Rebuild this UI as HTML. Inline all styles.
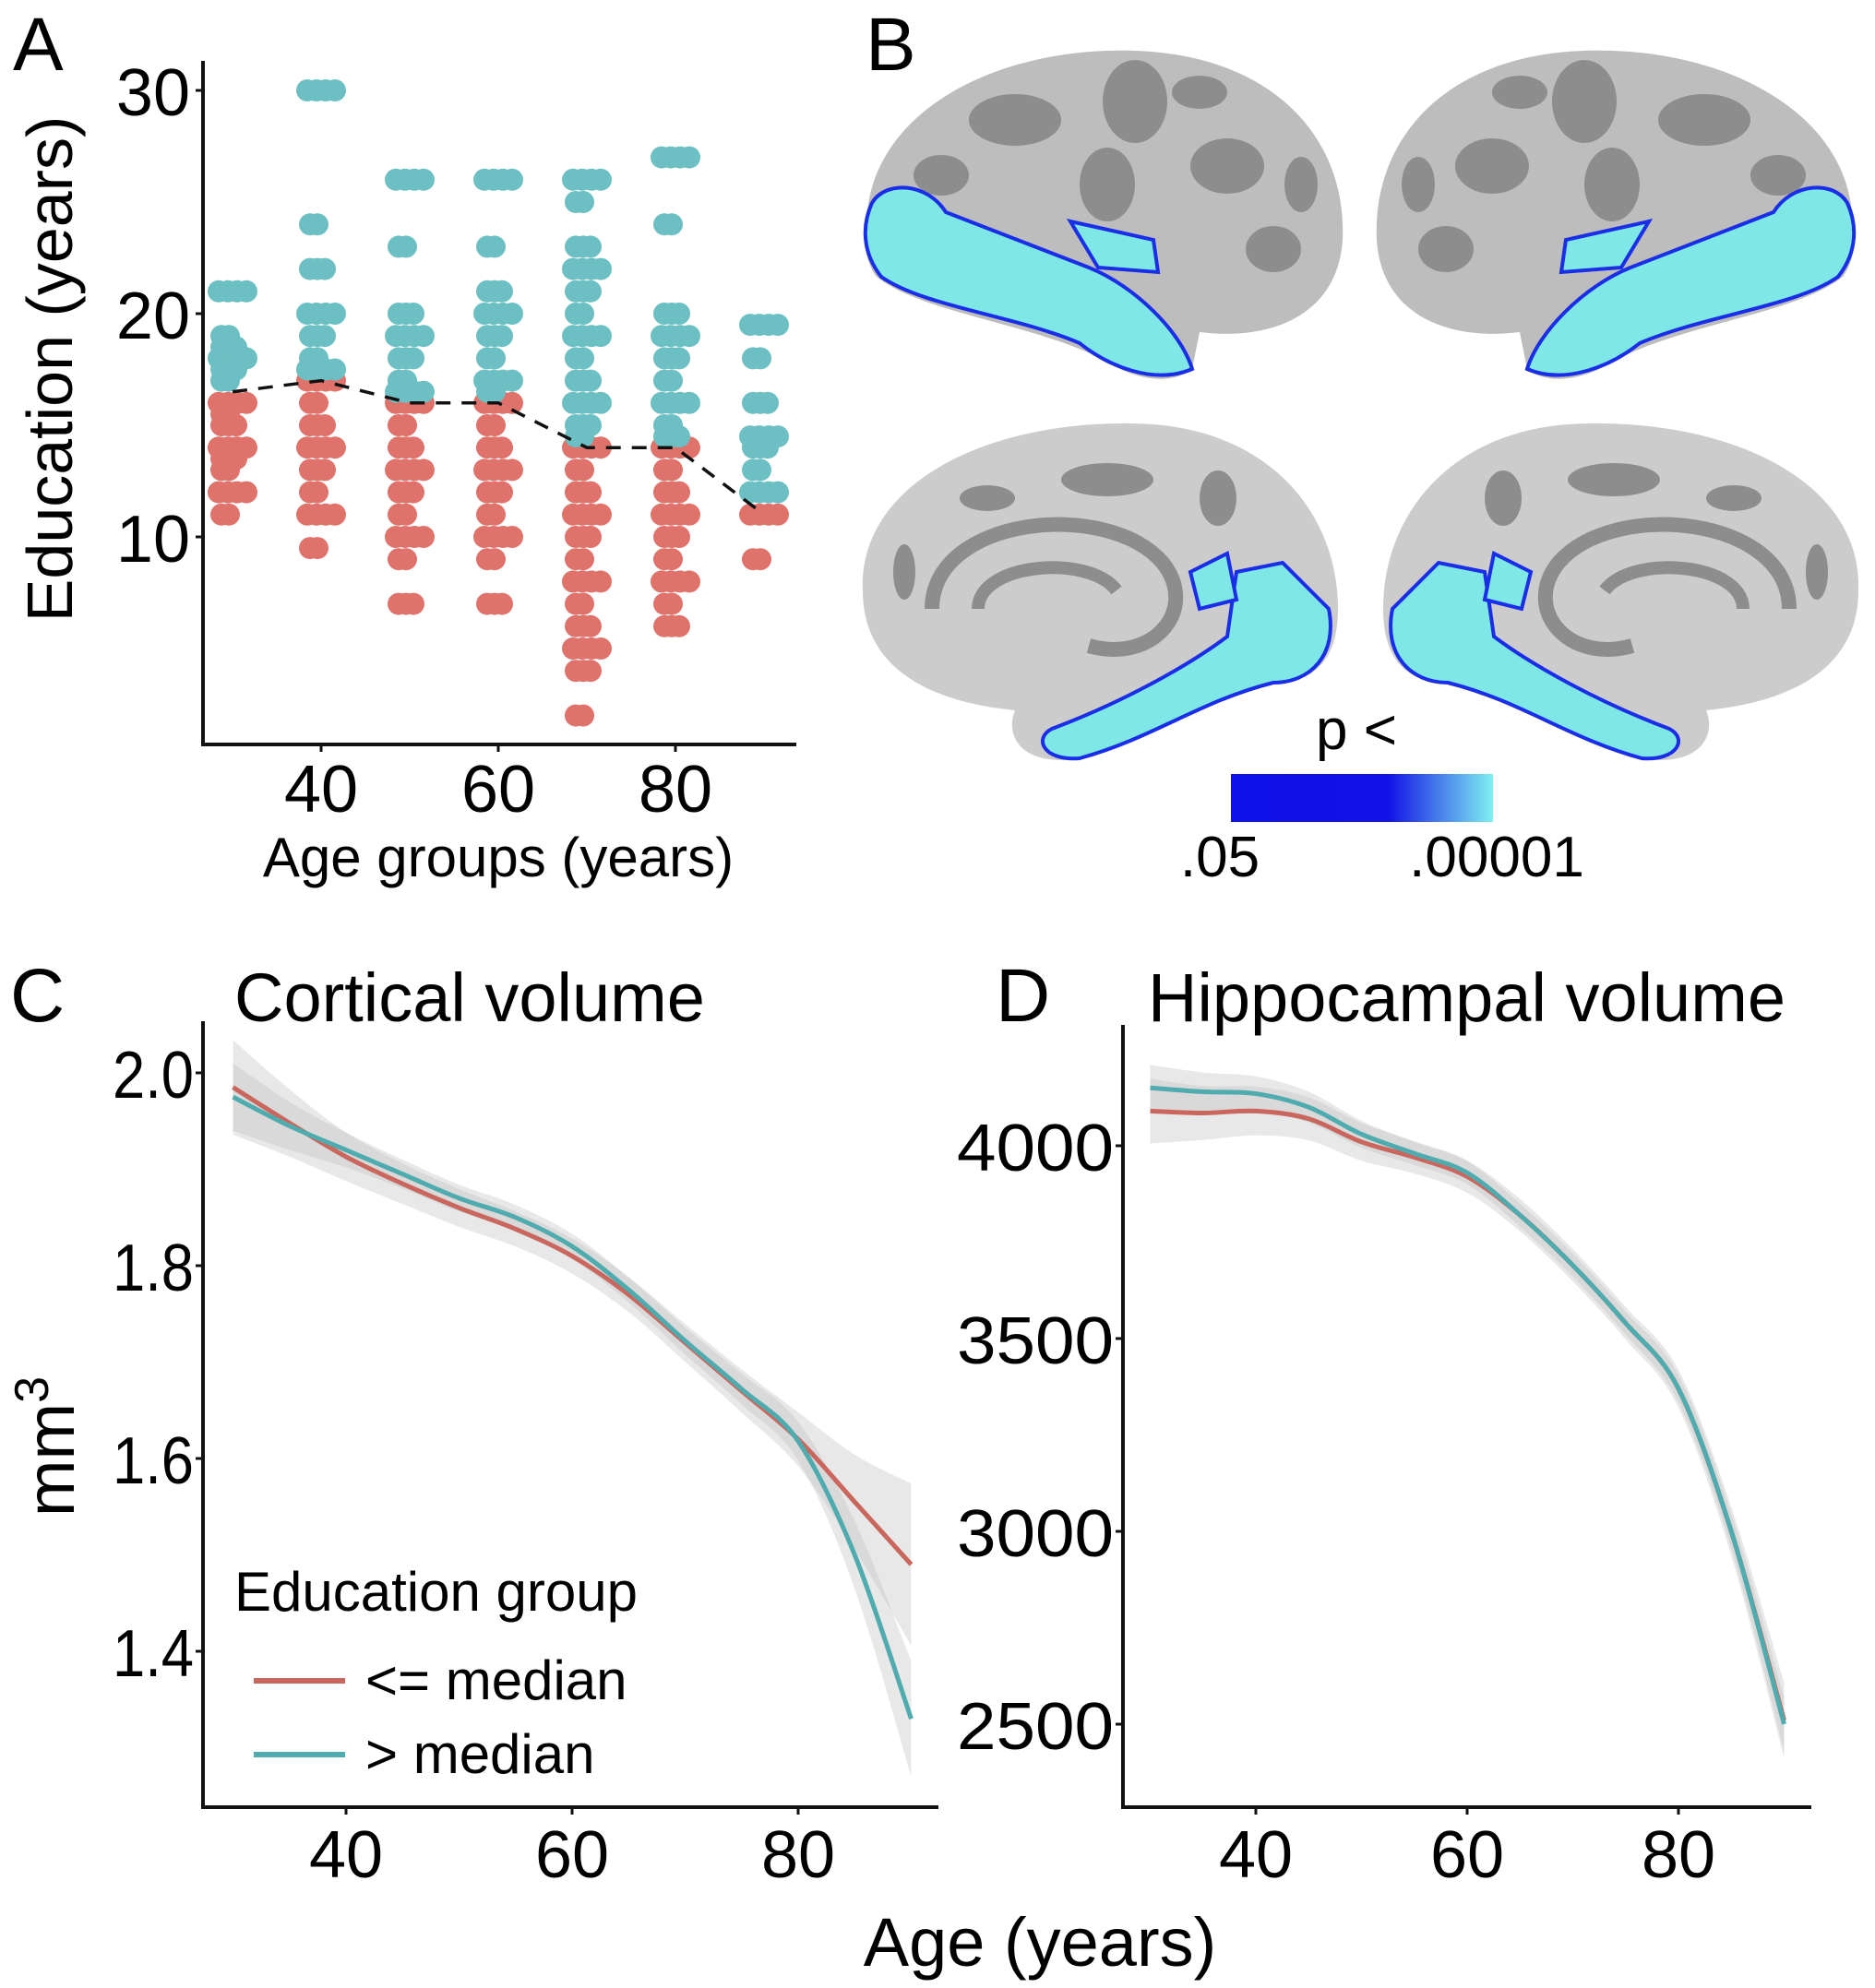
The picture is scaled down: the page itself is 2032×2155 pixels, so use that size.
<!DOCTYPE html>
<html><head><meta charset="utf-8"><style>
html,body{margin:0;padding:0;background:#fff;}
svg{display:block;font-family:"Liberation Sans",sans-serif;}
</style></head><body>
<svg id="fig" width="2032" height="2155" viewBox="0 0 2032 2155" xmlns="http://www.w3.org/2000/svg">
<g id="panelA"></g>
<g id="panelB">
  <text x="938" y="76" font-size="82">B</text>
  <defs>
    <linearGradient id="pgrad" x1="0" x2="1" y1="0" y2="0">
      <stop offset="0" stop-color="#1010e8"/><stop offset="0.6" stop-color="#1212e6"/><stop offset="1" stop-color="#7ff0f0"/>
    </linearGradient>
    <g id="lateral">
      <path d="M940 230 C950 120 1080 50 1230 55 C1380 60 1460 150 1455 260 C1450 340 1380 370 1300 360 L1292 400 C1270 418 1230 412 1200 392 C1120 350 1000 340 950 300 C935 280 935 250 940 230 Z" fill="#bdbdbd"/>
      <ellipse cx="1100" cy="130" rx="50" ry="28" fill="#8d8d8d"/><ellipse cx="1230" cy="110" rx="35" ry="45" fill="#8d8d8d"/>
      <ellipse cx="1330" cy="180" rx="40" ry="30" fill="#8d8d8d"/><ellipse cx="1380" cy="270" rx="30" ry="25" fill="#8d8d8d"/>
      <ellipse cx="1020" cy="190" rx="30" ry="22" fill="#8d8d8d"/><ellipse cx="1200" cy="200" rx="30" ry="40" fill="#8d8d8d"/>
      <ellipse cx="1300" cy="100" rx="30" ry="18" fill="#8d8d8d"/><ellipse cx="1410" cy="200" rx="18" ry="30" fill="#8d8d8d"/>
      <path d="M945 220 C960 195 1005 198 1025 230 L1180 290 C1230 310 1280 360 1292 400 C1250 418 1200 396 1170 372 C1100 342 1000 332 955 300 C933 272 935 242 945 220 Z" fill="#7fe8e6" stroke="#1a2ee6" stroke-width="4"/>
      <path d="M1160 240 L1250 260 L1255 295 L1190 290 Z" fill="#7fe8e6" stroke="#1a2ee6" stroke-width="4"/>
    </g>
    <g id="medial">
      <path d="M935 640 C930 520 1080 450 1250 460 C1380 470 1450 560 1450 660 C1450 720 1420 740 1380 740 C1300 760 1250 800 1170 822 C1110 832 1088 800 1100 770 C1000 760 935 720 935 640 Z" fill="#cccccc"/>
      <path d="M1010 660 C1010 560 1200 540 1260 610 C1300 660 1250 720 1180 700" fill="none" stroke="#8d8d8d" stroke-width="16"/>
      <path d="M1060 660 C1060 610 1180 600 1210 640" fill="none" stroke="#8d8d8d" stroke-width="14"/>
      <ellipse cx="1200" cy="520" rx="50" ry="18" fill="#8d8d8d"/><ellipse cx="1070" cy="540" rx="30" ry="14" fill="#8d8d8d"/>
      <ellipse cx="980" cy="620" rx="12" ry="30" fill="#8d8d8d"/><ellipse cx="1320" cy="540" rx="20" ry="30" fill="#8d8d8d"/>
      <path d="M1340 620 L1390 610 L1440 660 C1450 710 1420 740 1380 740 C1300 760 1250 800 1170 822 C1130 825 1120 800 1140 790 C1220 760 1290 720 1330 690 Z" fill="#7fe8e6" stroke="#1a2ee6" stroke-width="4"/>
      <path d="M1290 620 L1330 600 L1340 650 L1300 660 Z" fill="#7fe8e6" stroke="#1a2ee6" stroke-width="4"/>
    </g>
  </defs>
  <use href="#lateral"/>
  <use href="#lateral" transform="translate(2947,0) scale(-1,1)"/>
  <use href="#medial"/>
  <use href="#medial" transform="translate(2949,0) scale(-1,1)"/>
  <text x="1470" y="812" font-size="62" text-anchor="middle">p &lt;</text>
  <rect x="1334" y="839" width="284" height="52" fill="url(#pgrad)"/>
  <text x="1322" y="950" font-size="62" text-anchor="middle">.05</text>
  <text x="1622" y="950" font-size="62" text-anchor="middle">.00001</text>
</g>
<g id="panelC"></g>
<g id="panelD"></g>
</svg>
<script>
// ---------- Panel A data ----------
const ageGroups = [30, 40, 50, 60, 70, 80, 90];
const cyanEdu = [
  [21,19,18.5,18,17.5,17],
  [30,24,22,20,19,18,17.5],
  [26,23,20,19,18,17,16.5],
  [26,23,21,20,19,18,17,16.5],
  [26,25,23,22,21,20,19,18,17,16,15,14.5],
  [27,24,20,19,18,17,16,15,14.5],
  [19.5,18,16,14.5,14,13,12]
];
const redEdu = [
  [16,15.5,15,14,13.5,13,12,11],
  [17,16,15,14,13,12,11,9.5],
  [16,15,14,13,12,11,10,9,7],
  [16,15,14,13,12,11,10,9,7],
  [14,13,12,11,10,9,8,7,6,5,4,2],
  [14,13,12,11,10,9,8,7,6],
  [11,9]
];
const medianEdu = [16.5, 17, 16, 16, 14, 14, 11];
const aYTicks = [10, 20, 30];
const aXTicks = [40, 60, 80];
// ---------- Panel C data ----------
const ageSeq = [30,35,40,45,50,55,60,65,70,75,80,85,90];
const cortLow = [1.985,1.948,1.913,1.885,1.860,1.838,1.810,1.770,1.720,1.670,1.620,1.555,1.490];
const cortHigh = [1.975,1.945,1.920,1.895,1.870,1.850,1.820,1.775,1.722,1.672,1.618,1.500,1.330];
const cortSE = [0.035,0.025,0.018,0.015,0.014,0.013,0.013,0.013,0.014,0.016,0.02,0.035,0.06];
const cYTicks = [1.4, 1.6, 1.8, 2.0];
const cXTicks = [40, 60, 80];
// ---------- Panel D data ----------
const hipLow = [4090,4085,4090,4070,4010,3970,3920,3820,3690,3540,3370,3000,2510];
const hipHigh = [4150,4140,4135,4100,4030,3980,3930,3820,3690,3540,3370,3000,2500];
const hipSE = [60,50,45,40,35,30,30,30,30,30,35,45,70];
const dYTicks = [2500, 3000, 3500, 4000];
const dXTicks = [40, 60, 80];

const NS = "http://www.w3.org/2000/svg";
function mk(parent, tag, attrs, text){
  const e = document.createElementNS(NS, tag);
  for (const k in attrs) e.setAttribute(k, attrs[k]);
  if (text !== undefined) e.textContent = text;
  parent.appendChild(e);
  return e;
}
function smooth(pts){
  let d = "M" + pts[0][0] + " " + pts[0][1];
  for (let i=0;i<pts.length-1;i++){
    const p0=pts[Math.max(0,i-1)], p1=pts[i], p2=pts[i+1], p3=pts[Math.min(pts.length-1,i+2)];
    const c1=[p1[0]+(p2[0]-p0[0])/6, p1[1]+(p2[1]-p0[1])/6];
    const c2=[p2[0]-(p3[0]-p1[0])/6, p2[1]-(p3[1]-p1[1])/6];
    d += " C"+c1[0]+" "+c1[1]+" "+c2[0]+" "+c2[1]+" "+p2[0]+" "+p2[1];
  }
  return d;
}
const RED = "#df736b", CYAN = "#6cc0c3";

// ---------- Panel A ----------
(function(){
  const g = document.getElementById("panelA");
  const ax = a => 252 + (a-30)*9.6;
  const ay = v => 582 - (v-10)*24.2;
  const t = mk(g,"text",{x:14,y:76,"font-size":82});
  t.textContent="A";
  
  
  const dots = mk(g,"g",{});
  
  
  ageGroups.forEach((age,gi)=>{
    const offs = [-15,-5,5,15];
    [[redEdu[gi],RED],[cyanEdu[gi],CYAN]].forEach(([vals,col])=>{
      vals.forEach((v,vi)=>{
        const n = (vi%3===0)?4:(vi%2===0?3:2);
        for(let k=0;k<n;k++){
          const c = mk(dots,"circle",{cx:ax(age)+offs[k]*(n<4?0.8:1),cy:ay(v),r:12,fill:col});
          
          
        }
      });
    });
  });
  const med = mk(g,"polyline",{points:ageGroups.map((a,i)=>ax(a)+","+ay(medianEdu[i])).join(" "),fill:"none",stroke:"#111","stroke-width":3.5,"stroke-dasharray":"16 12"});
  
  
  const axis = mk(g,"path",{d:"M220 66 V807 H863",fill:"none",stroke:"#111","stroke-width":4});
  
  
  aYTicks.forEach(v=>{
    mk(g,"line",{x1:212,x2:220,y1:ay(v),y2:ay(v),stroke:"#111","stroke-width":3});
    const l = mk(g,"text",{x:206,y:ay(v)+27,"font-size":72,"text-anchor":"end"},String(v));
    
    
  });
  aXTicks.forEach(v=>{
    mk(g,"line",{x1:ax(v),x2:ax(v),y1:807,y2:815,stroke:"#111","stroke-width":3});
    const l = mk(g,"text",{x:ax(v),y:880,"font-size":72,"text-anchor":"middle"},String(v));
    
    
  });
  const yt = mk(g,"text",{x:0,y:0,"font-size":70,"text-anchor":"middle",transform:"translate(78,400) rotate(-90)"},"Education (years)");
  
  
  const xt = mk(g,"text",{x:540,y:950,"font-size":60,"text-anchor":"middle"},"Age groups (years)");
  
  
})();

function linePanel(gid, opts){
  const g = document.getElementById(gid);
  const sx = a => opts.x40 + (a-40)*opts.xs;
  const sy = v => opts.yref + (v-opts.vref)*opts.ys;
  const lab = mk(g,"text",{x:opts.labX,y:1107,"font-size":82},opts.label);
  
  
  const title = mk(g,"text",{x:opts.titleX,y:1107,"font-size":74},opts.title);
  
  
  [[opts.low,1.4],[opts.high,1]].forEach(([arr,m])=>{
    const up = ageSeq.map((a,i)=>[sx(a),sy(arr[i]+opts.se[i]*m)]);
    const dn = ageSeq.map((a,i)=>[sx(a),sy(arr[i]-opts.se[i]*m)]).reverse();
    const band = mk(g,"path",{d:smooth(up)+" L"+smooth(dn).slice(1)+" Z",fill:"#bdbdbd","fill-opacity":0.35});
    
    
  });
  const lr = mk(g,"path",{d:smooth(ageSeq.map((a,i)=>[sx(a),sy(opts.low[i])])),fill:"none",stroke:"#c9675e","stroke-width":5});
  
  
  const lc = mk(g,"path",{d:smooth(ageSeq.map((a,i)=>[sx(a),sy(opts.high[i])])),fill:"none",stroke:"#4fabae","stroke-width":5});
  
  
  const axis = mk(g,"path",{d:"M"+opts.axX+" "+opts.top+" V1959 H"+opts.right,fill:"none",stroke:"#111","stroke-width":4});
  
  
  opts.yTicks.forEach(v=>{
    mk(g,"line",{x1:opts.axX-8,x2:opts.axX,y1:sy(v),y2:sy(v),stroke:"#111","stroke-width":3});
    const l = mk(g,"text",{x:opts.axX-10,y:sy(v)+27,"font-size":72,"text-anchor":"end",textLength:opts.tl(v),lengthAdjust:"spacingAndGlyphs"},opts.fmt(v));
    
    
  });
  opts.xTicks.forEach(v=>{
    mk(g,"line",{x1:sx(v),x2:sx(v),y1:1959,y2:1967,stroke:"#111","stroke-width":3});
    const l = mk(g,"text",{x:sx(v),y:2035,"font-size":72,"text-anchor":"middle"},String(v));
    
    
  });
  return g;
}
const gC = linePanel("panelC",{label:"C",labX:11,title:"Cortical volume",titleX:254,x40:375,xs:12.25,yref:1163,vref:2.0,ys:-1045,
  low:cortLow,high:cortHigh,se:cortSE,yTicks:cYTicks,xTicks:cXTicks,axX:220,top:1107,right:1017,
  fmt:v=>v.toFixed(1),tl:v=>88});
const gD = linePanel("panelD",{label:"D",labX:1079,title:"Hippocampal volume",titleX:1244,x40:1361,xs:11.45,yref:1242,vref:4000,ys:-0.418,
  low:hipLow,high:hipHigh,se:hipSE,yTicks:dYTicks,xTicks:dXTicks,axX:1217,top:1111,right:1963,
  fmt:v=>String(v),tl:v=>170});
// mm3 title
const mm = mk(gC,"text",{x:0,y:0,"font-size":74,"text-anchor":"middle",transform:"translate(80,1568) rotate(-90)"});
mm.textContent = "mm";
const sup = mk(mm,"tspan",{dy:-28,"font-size":52},"3");


// legend
const leg = mk(gC,"g",{});


mk(leg,"text",{x:254,y:1746,"font-size":60},"Education group");
const e1 = mk(leg,"line",{x1:275,x2:374,y1:1822,y2:1822,stroke:"#c9675e","stroke-width":6});


mk(leg,"text",{x:396,y:1842,"font-size":60},"<= median");
const e2 = mk(leg,"line",{x1:275,x2:374,y1:1902,y2:1902,stroke:"#4fabae","stroke-width":6});


mk(leg,"text",{x:396,y:1922,"font-size":60},"> median");
const ax = mk(document.getElementById("fig"),"text",{x:1127,y:2131,"font-size":74,"text-anchor":"middle"},"Age (years)");


</script>
</body></html>
